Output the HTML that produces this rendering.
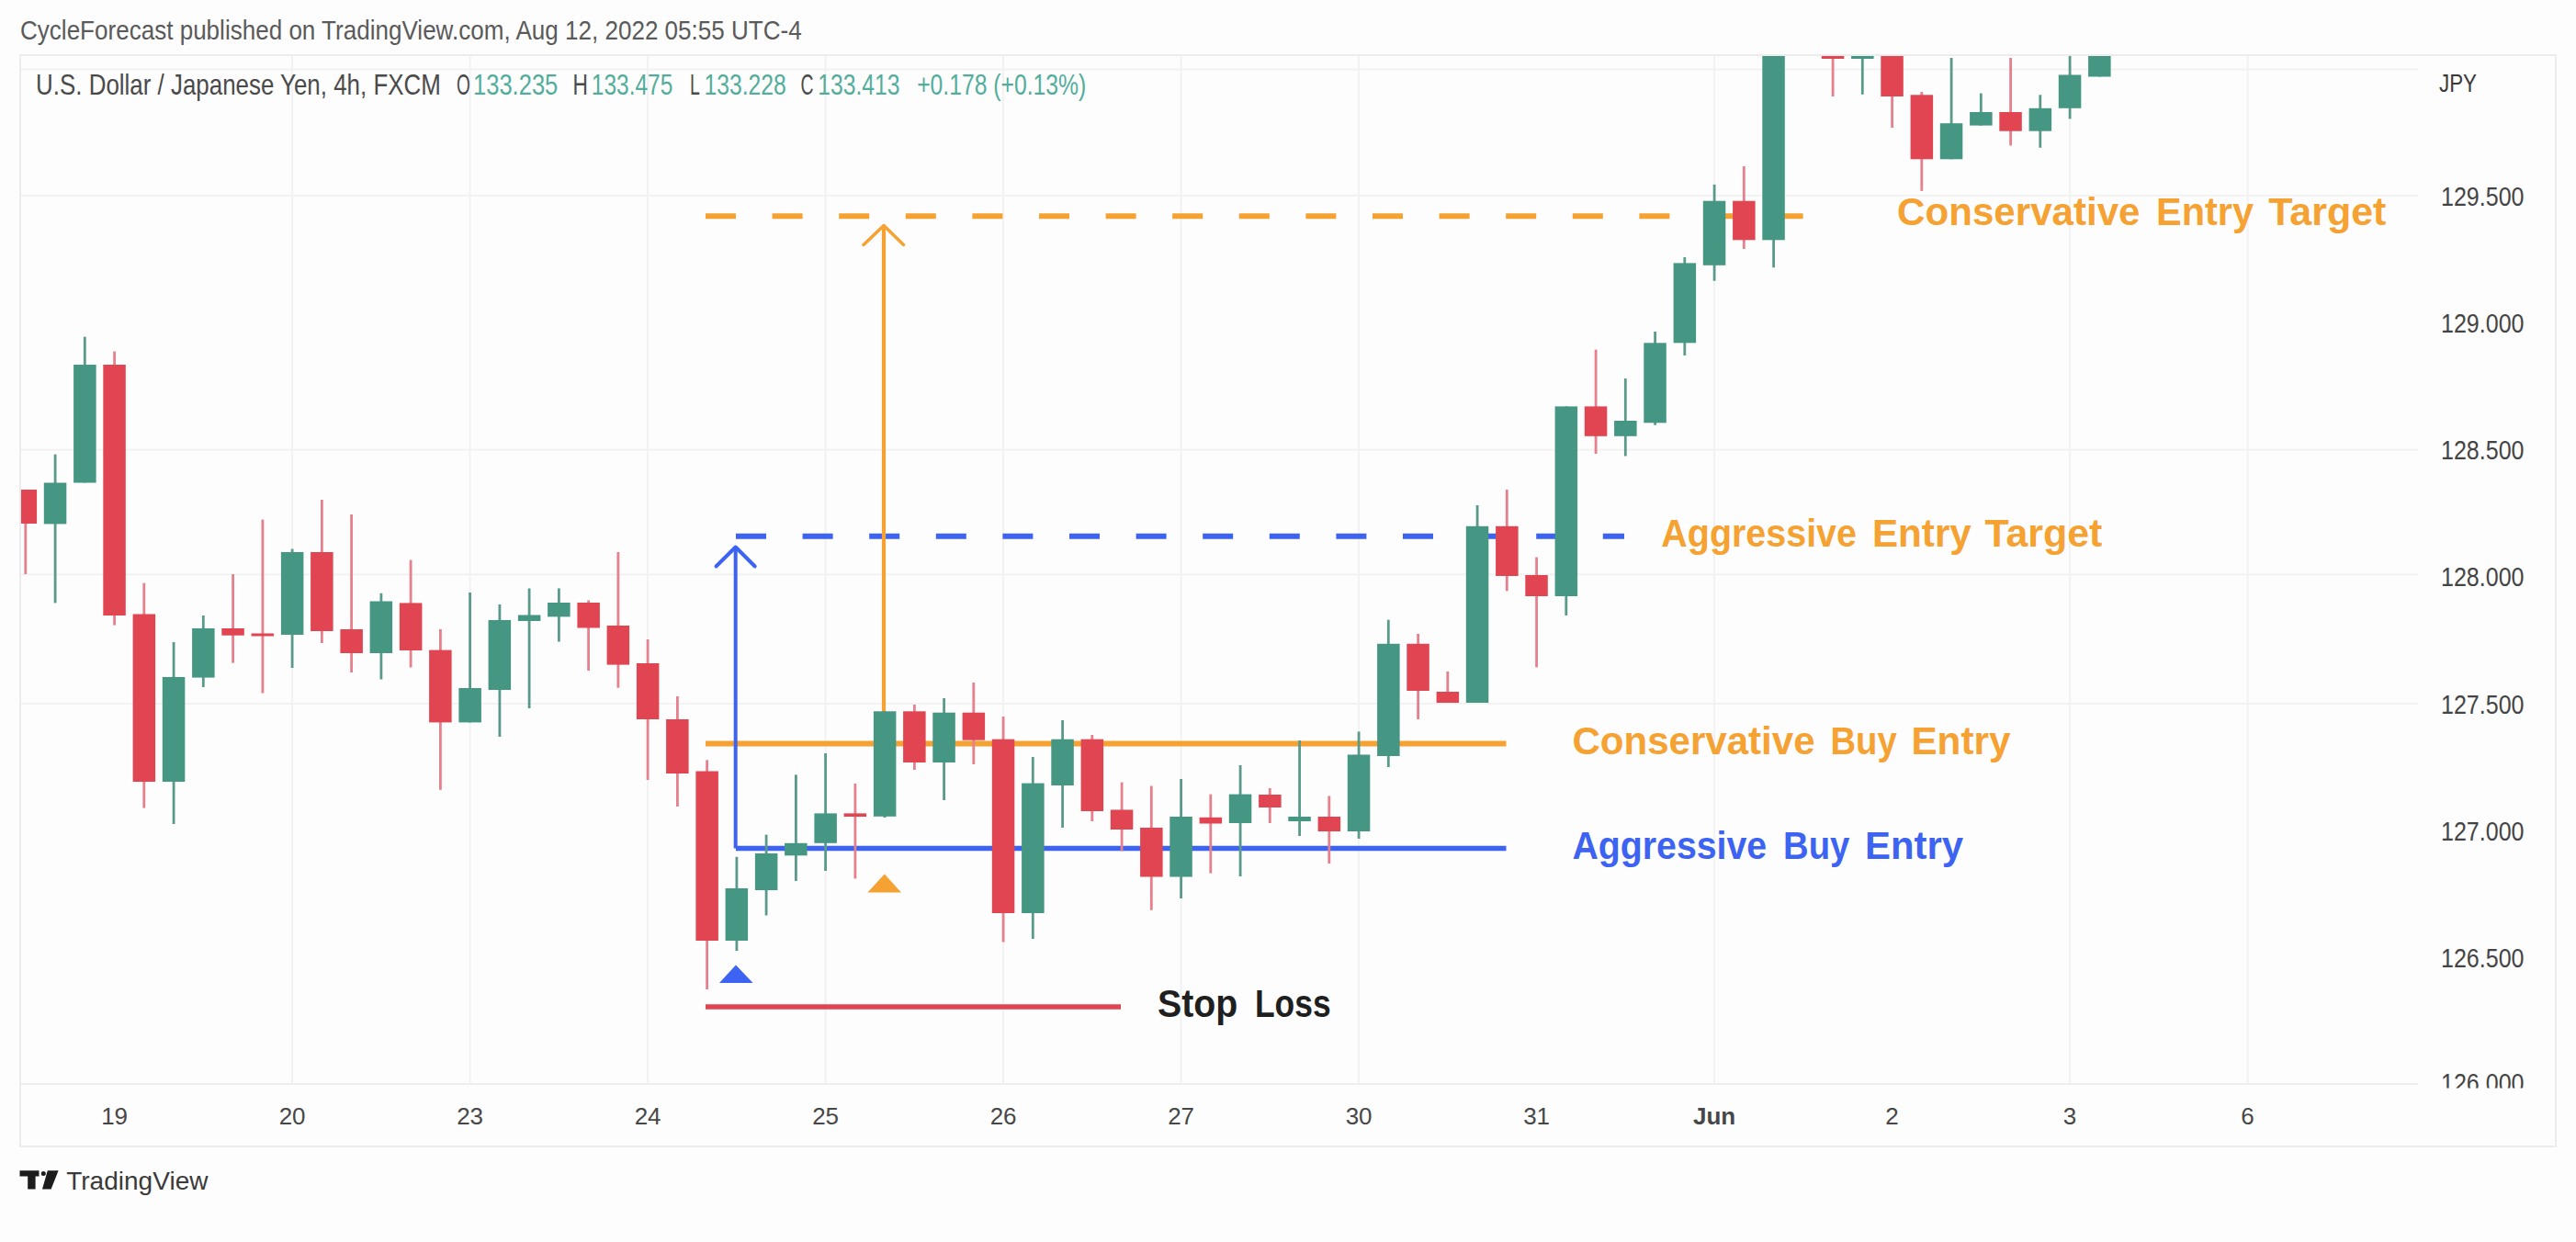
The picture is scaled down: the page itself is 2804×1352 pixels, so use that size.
<!DOCTYPE html><html><head><meta charset="utf-8"><title>USDJPY 4h chart</title><style>
html,body{margin:0;padding:0;background:#fdfdfd;width:2804px;height:1352px;overflow:hidden}
svg{display:block} text{font-family:"Liberation Sans",Arial,sans-serif}
</style></head><body>
<svg width="2804" height="1352" viewBox="0 0 2804 1352">
<rect x="0" y="0" width="2804" height="1352" fill="#fdfdfd"/>
<text x="22" y="42.6" font-size="30" fill="#5a5a5a" textLength="850.7" lengthAdjust="spacingAndGlyphs">CycleForecast published on TradingView.com, Aug 12, 2022 05:55 UTC-4</text>
<rect x="22" y="60" width="2760" height="1188" fill="none" stroke="#ececec" stroke-width="2"/>
<defs><clipPath id="pane"><rect x="23" y="61" width="2609" height="1120"/></clipPath></defs>
<g clip-path="url(#pane)">
<rect x="23" y="74.5" width="2609" height="2" fill="#f2f2f2"/>
<rect x="23" y="211.8" width="2609" height="2" fill="#f2f2f2"/>
<rect x="23" y="488.7" width="2609" height="2" fill="#f2f2f2"/>
<rect x="23" y="624.4" width="2609" height="2" fill="#f2f2f2"/>
<rect x="23" y="764.9" width="2609" height="2" fill="#f2f2f2"/>
<rect x="317.1" y="61" width="2" height="1120" fill="#f2f2f2"/>
<rect x="510.6" y="61" width="2" height="1120" fill="#f2f2f2"/>
<rect x="704.1" y="61" width="2" height="1120" fill="#f2f2f2"/>
<rect x="897.6" y="61" width="2" height="1120" fill="#f2f2f2"/>
<rect x="1091.1" y="61" width="2" height="1120" fill="#f2f2f2"/>
<rect x="1284.6" y="61" width="2" height="1120" fill="#f2f2f2"/>
<rect x="1478.1" y="61" width="2" height="1120" fill="#f2f2f2"/>
<rect x="1865.1" y="61" width="2" height="1120" fill="#f2f2f2"/>
<rect x="2252.1" y="61" width="2" height="1120" fill="#f2f2f2"/>
<rect x="2445.6" y="61" width="2" height="1120" fill="#f2f2f2"/>
<line x1="768" y1="235.3" x2="1963" y2="235.3" stroke="#f5a233" stroke-width="6" stroke-dasharray="33 39.6"/>
<line x1="801" y1="583.7" x2="1768" y2="583.7" stroke="#3d63f2" stroke-width="6" stroke-dasharray="33 39.6"/>
<line x1="768" y1="809.6" x2="1639.5" y2="809.6" stroke="#f5a233" stroke-width="6"/>
<line x1="801" y1="923.5" x2="1639.5" y2="923.5" stroke="#3d63f2" stroke-width="5.5"/>
<line x1="768" y1="1096" x2="1220" y2="1096" stroke="#e24552" stroke-width="5.5"/>
<line x1="962" y1="808" x2="962" y2="247" stroke="#f5a233" stroke-width="4.2"/>
<polyline points="940,266.5 962,245.5 983.5,266.5" fill="none" stroke="#f5a233" stroke-width="3.5" stroke-linecap="round" stroke-linejoin="round"/>
<line x1="800.7" y1="923.5" x2="800.7" y2="597" stroke="#3d63f2" stroke-width="4"/>
<polyline points="779.5,616.5 800.7,595.5 821.7,616.5" fill="none" stroke="#3d63f2" stroke-width="4" stroke-linecap="round" stroke-linejoin="round"/>
<polygon points="801,1050.6 783,1070 819.6,1070" fill="#3d63f2"/>
<polygon points="962.8,951.6 944.4,971.4 981,971.4" fill="#f5a233"/>
<rect x="26.4" y="533.0" width="2.8" height="92.0" fill="#e5808c"/>
<rect x="15.6" y="533.0" width="24.5" height="37.0" fill="#e04551"/>
<rect x="58.7" y="494.6" width="2.8" height="161.8" fill="#5a9a8b"/>
<rect x="47.8" y="525.5" width="24.5" height="44.9" fill="#459683"/>
<rect x="90.9" y="366.6" width="2.8" height="158.9" fill="#5a9a8b"/>
<rect x="80.1" y="397.0" width="24.5" height="128.5" fill="#459683"/>
<rect x="123.2" y="382.5" width="2.8" height="298.1" fill="#e5808c"/>
<rect x="112.3" y="397.0" width="24.5" height="273.0" fill="#e04551"/>
<rect x="155.4" y="634.7" width="2.8" height="244.9" fill="#e5808c"/>
<rect x="144.6" y="668.5" width="24.5" height="182.5" fill="#e04551"/>
<rect x="187.7" y="699.0" width="2.8" height="198.0" fill="#5a9a8b"/>
<rect x="176.8" y="737.0" width="24.5" height="114.0" fill="#459683"/>
<rect x="219.9" y="670.0" width="2.8" height="78.0" fill="#5a9a8b"/>
<rect x="209.1" y="684.0" width="24.5" height="53.6" fill="#459683"/>
<rect x="252.2" y="625.0" width="2.8" height="96.6" fill="#e5808c"/>
<rect x="241.3" y="684.0" width="24.5" height="7.7" fill="#e04551"/>
<rect x="284.5" y="565.6" width="2.8" height="188.9" fill="#e5808c"/>
<rect x="273.6" y="689.5" width="24.5" height="3.0" fill="#e04551"/>
<rect x="316.7" y="597.5" width="2.8" height="129.5" fill="#5a9a8b"/>
<rect x="305.9" y="601.0" width="24.5" height="90.0" fill="#459683"/>
<rect x="349.0" y="544.0" width="2.8" height="156.0" fill="#e5808c"/>
<rect x="338.1" y="601.0" width="24.5" height="86.0" fill="#e04551"/>
<rect x="381.2" y="560.0" width="2.8" height="172.0" fill="#e5808c"/>
<rect x="370.4" y="685.0" width="24.5" height="26.0" fill="#e04551"/>
<rect x="413.5" y="645.8" width="2.8" height="93.7" fill="#5a9a8b"/>
<rect x="402.6" y="654.5" width="24.5" height="56.5" fill="#459683"/>
<rect x="445.7" y="609.6" width="2.8" height="116.9" fill="#e5808c"/>
<rect x="434.9" y="656.4" width="24.5" height="51.6" fill="#e04551"/>
<rect x="478.0" y="685.0" width="2.8" height="174.8" fill="#e5808c"/>
<rect x="467.1" y="707.6" width="24.5" height="78.8" fill="#e04551"/>
<rect x="510.2" y="645.0" width="2.8" height="141.4" fill="#5a9a8b"/>
<rect x="499.4" y="749.0" width="24.5" height="37.4" fill="#459683"/>
<rect x="542.5" y="658.0" width="2.8" height="144.0" fill="#5a9a8b"/>
<rect x="531.6" y="675.0" width="24.5" height="76.0" fill="#459683"/>
<rect x="574.7" y="640.5" width="2.8" height="130.5" fill="#5a9a8b"/>
<rect x="563.9" y="669.5" width="24.5" height="6.5" fill="#459683"/>
<rect x="607.0" y="640.5" width="2.8" height="58.0" fill="#5a9a8b"/>
<rect x="596.1" y="656.0" width="24.5" height="15.4" fill="#459683"/>
<rect x="639.2" y="653.5" width="2.8" height="76.5" fill="#e5808c"/>
<rect x="628.4" y="656.0" width="24.5" height="27.5" fill="#e04551"/>
<rect x="671.5" y="601.0" width="2.8" height="147.7" fill="#e5808c"/>
<rect x="660.6" y="681.0" width="24.5" height="42.6" fill="#e04551"/>
<rect x="703.7" y="696.0" width="2.8" height="153.0" fill="#e5808c"/>
<rect x="692.9" y="722.0" width="24.5" height="61.0" fill="#e04551"/>
<rect x="736.0" y="758.0" width="2.8" height="120.0" fill="#e5808c"/>
<rect x="725.1" y="783.0" width="24.5" height="59.0" fill="#e04551"/>
<rect x="768.2" y="827.4" width="2.8" height="249.6" fill="#e5808c"/>
<rect x="757.4" y="839.5" width="24.5" height="184.5" fill="#e04551"/>
<rect x="800.5" y="932.8" width="2.8" height="102.2" fill="#5a9a8b"/>
<rect x="789.6" y="967.0" width="24.5" height="57.0" fill="#459683"/>
<rect x="832.7" y="908.6" width="2.8" height="87.9" fill="#5a9a8b"/>
<rect x="821.9" y="929.0" width="24.5" height="40.0" fill="#459683"/>
<rect x="865.0" y="843.4" width="2.8" height="115.6" fill="#5a9a8b"/>
<rect x="854.1" y="917.8" width="24.5" height="13.5" fill="#459683"/>
<rect x="897.2" y="820.0" width="2.8" height="128.0" fill="#5a9a8b"/>
<rect x="886.4" y="885.4" width="24.5" height="32.4" fill="#459683"/>
<rect x="929.5" y="853.0" width="2.8" height="103.4" fill="#e5808c"/>
<rect x="918.6" y="885.4" width="24.5" height="3.6" fill="#e04551"/>
<rect x="961.7" y="774.3" width="2.8" height="115.7" fill="#5a9a8b"/>
<rect x="950.9" y="774.3" width="24.5" height="114.5" fill="#459683"/>
<rect x="994.0" y="767.0" width="2.8" height="71.0" fill="#e5808c"/>
<rect x="983.1" y="774.3" width="24.5" height="55.7" fill="#e04551"/>
<rect x="1026.2" y="760.0" width="2.8" height="111.0" fill="#5a9a8b"/>
<rect x="1015.3" y="775.7" width="24.5" height="54.3" fill="#459683"/>
<rect x="1058.4" y="743.0" width="2.8" height="89.0" fill="#e5808c"/>
<rect x="1047.6" y="775.7" width="24.5" height="30.0" fill="#e04551"/>
<rect x="1090.7" y="780.0" width="2.8" height="245.5" fill="#e5808c"/>
<rect x="1079.8" y="804.7" width="24.5" height="189.3" fill="#e04551"/>
<rect x="1122.9" y="824.0" width="2.8" height="198.0" fill="#5a9a8b"/>
<rect x="1112.1" y="852.6" width="24.5" height="141.4" fill="#459683"/>
<rect x="1155.2" y="784.0" width="2.8" height="117.0" fill="#5a9a8b"/>
<rect x="1144.3" y="804.7" width="24.5" height="50.3" fill="#459683"/>
<rect x="1187.4" y="800.0" width="2.8" height="94.0" fill="#e5808c"/>
<rect x="1176.6" y="804.7" width="24.5" height="78.3" fill="#e04551"/>
<rect x="1219.7" y="851.6" width="2.8" height="74.9" fill="#e5808c"/>
<rect x="1208.8" y="881.5" width="24.5" height="21.5" fill="#e04551"/>
<rect x="1251.9" y="855.5" width="2.8" height="135.2" fill="#e5808c"/>
<rect x="1241.1" y="901.0" width="24.5" height="53.5" fill="#e04551"/>
<rect x="1284.2" y="848.0" width="2.8" height="130.0" fill="#5a9a8b"/>
<rect x="1273.3" y="889.0" width="24.5" height="65.5" fill="#459683"/>
<rect x="1316.4" y="864.6" width="2.8" height="86.0" fill="#e5808c"/>
<rect x="1305.6" y="889.8" width="24.5" height="6.7" fill="#e04551"/>
<rect x="1348.7" y="833.0" width="2.8" height="121.0" fill="#5a9a8b"/>
<rect x="1337.8" y="864.6" width="24.5" height="31.4" fill="#459683"/>
<rect x="1380.9" y="858.0" width="2.8" height="38.0" fill="#e5808c"/>
<rect x="1370.1" y="865.0" width="24.5" height="14.0" fill="#e04551"/>
<rect x="1413.2" y="806.0" width="2.8" height="104.0" fill="#5a9a8b"/>
<rect x="1402.3" y="889.0" width="24.5" height="5.0" fill="#459683"/>
<rect x="1445.4" y="866.5" width="2.8" height="73.5" fill="#e5808c"/>
<rect x="1434.6" y="889.0" width="24.5" height="16.0" fill="#e04551"/>
<rect x="1477.7" y="796.4" width="2.8" height="116.6" fill="#5a9a8b"/>
<rect x="1466.8" y="821.5" width="24.5" height="83.5" fill="#459683"/>
<rect x="1509.9" y="674.7" width="2.8" height="160.3" fill="#5a9a8b"/>
<rect x="1499.1" y="700.8" width="24.5" height="122.2" fill="#459683"/>
<rect x="1542.2" y="690.0" width="2.8" height="93.0" fill="#e5808c"/>
<rect x="1531.3" y="700.8" width="24.5" height="51.2" fill="#e04551"/>
<rect x="1574.4" y="731.0" width="2.8" height="34.0" fill="#e5808c"/>
<rect x="1563.6" y="753.0" width="24.5" height="12.0" fill="#e04551"/>
<rect x="1606.7" y="550.0" width="2.8" height="215.0" fill="#5a9a8b"/>
<rect x="1595.8" y="572.8" width="24.5" height="192.2" fill="#459683"/>
<rect x="1638.9" y="533.0" width="2.8" height="110.3" fill="#e5808c"/>
<rect x="1628.1" y="572.8" width="24.5" height="54.2" fill="#e04551"/>
<rect x="1671.2" y="606.6" width="2.8" height="119.8" fill="#e5808c"/>
<rect x="1660.3" y="626.0" width="24.5" height="23.0" fill="#e04551"/>
<rect x="1703.4" y="442.4" width="2.8" height="227.6" fill="#5a9a8b"/>
<rect x="1692.6" y="442.4" width="24.5" height="206.6" fill="#459683"/>
<rect x="1735.7" y="380.6" width="2.8" height="113.4" fill="#e5808c"/>
<rect x="1724.8" y="442.4" width="24.5" height="32.4" fill="#e04551"/>
<rect x="1767.9" y="412.0" width="2.8" height="84.5" fill="#5a9a8b"/>
<rect x="1757.1" y="458.0" width="24.5" height="16.8" fill="#459683"/>
<rect x="1800.2" y="361.0" width="2.8" height="101.7" fill="#5a9a8b"/>
<rect x="1789.3" y="373.3" width="24.5" height="87.0" fill="#459683"/>
<rect x="1832.4" y="280.0" width="2.8" height="106.9" fill="#5a9a8b"/>
<rect x="1821.6" y="286.4" width="24.5" height="86.9" fill="#459683"/>
<rect x="1864.7" y="200.9" width="2.8" height="104.8" fill="#5a9a8b"/>
<rect x="1853.8" y="218.7" width="24.5" height="70.1" fill="#459683"/>
<rect x="1896.9" y="181.0" width="2.8" height="90.0" fill="#e5808c"/>
<rect x="1886.1" y="218.7" width="24.5" height="42.6" fill="#e04551"/>
<rect x="1929.2" y="40.0" width="2.8" height="251.2" fill="#5a9a8b"/>
<rect x="1918.3" y="40.0" width="24.5" height="221.3" fill="#459683"/>
<rect x="1993.7" y="20.0" width="2.8" height="85.0" fill="#e5808c"/>
<rect x="1982.8" y="20.0" width="24.5" height="44.0" fill="#e04551"/>
<rect x="2025.9" y="20.0" width="2.8" height="82.8" fill="#5a9a8b"/>
<rect x="2015.1" y="20.0" width="24.5" height="44.0" fill="#459683"/>
<rect x="2058.2" y="20.0" width="2.8" height="119.0" fill="#e5808c"/>
<rect x="2047.3" y="20.0" width="24.5" height="85.0" fill="#e04551"/>
<rect x="2090.4" y="100.0" width="2.8" height="107.9" fill="#e5808c"/>
<rect x="2079.6" y="103.3" width="24.5" height="70.0" fill="#e04551"/>
<rect x="2122.7" y="63.0" width="2.8" height="110.3" fill="#5a9a8b"/>
<rect x="2111.8" y="134.2" width="24.5" height="39.1" fill="#459683"/>
<rect x="2154.9" y="101.6" width="2.8" height="35.0" fill="#5a9a8b"/>
<rect x="2144.1" y="122.0" width="24.5" height="14.6" fill="#459683"/>
<rect x="2187.2" y="63.0" width="2.8" height="95.4" fill="#e5808c"/>
<rect x="2176.3" y="122.0" width="24.5" height="20.7" fill="#e04551"/>
<rect x="2219.4" y="103.3" width="2.8" height="57.5" fill="#5a9a8b"/>
<rect x="2208.6" y="117.8" width="24.5" height="24.9" fill="#459683"/>
<rect x="2251.7" y="50.0" width="2.8" height="79.4" fill="#5a9a8b"/>
<rect x="2240.8" y="81.5" width="24.5" height="36.3" fill="#459683"/>
<rect x="2283.9" y="20.0" width="2.8" height="63.5" fill="#5a9a8b"/>
<rect x="2273.1" y="20.0" width="24.5" height="63.5" fill="#459683"/>
</g>
<rect x="23" y="1179" width="2609" height="2" fill="#eeeeee"/>
<text x="2657" y="223.7" font-size="29" fill="#444444" textLength="90.5" lengthAdjust="spacingAndGlyphs">129.500</text>
<text x="2657" y="361.9" font-size="29" fill="#444444" textLength="90.5" lengthAdjust="spacingAndGlyphs">129.000</text>
<text x="2657" y="500.1" font-size="29" fill="#444444" textLength="90.5" lengthAdjust="spacingAndGlyphs">128.500</text>
<text x="2657" y="638.3" font-size="29" fill="#444444" textLength="90.5" lengthAdjust="spacingAndGlyphs">128.000</text>
<text x="2657" y="776.5" font-size="29" fill="#444444" textLength="90.5" lengthAdjust="spacingAndGlyphs">127.500</text>
<text x="2657" y="914.7" font-size="29" fill="#444444" textLength="90.5" lengthAdjust="spacingAndGlyphs">127.000</text>
<text x="2657" y="1052.9" font-size="29" fill="#444444" textLength="90.5" lengthAdjust="spacingAndGlyphs">126.500</text>
<defs><clipPath id="pax"><rect x="2632" y="61" width="150" height="1123.5"/></clipPath></defs>
<text clip-path="url(#pax)" x="2657" y="1188.6" font-size="29" fill="#444444" textLength="90.5" lengthAdjust="spacingAndGlyphs">126.000</text>
<text x="2655" y="99.9" font-size="28" fill="#3a3a3a" textLength="41" lengthAdjust="spacingAndGlyphs">JPY</text>
<text x="124.6" y="1224" font-size="26" fill="#474747" text-anchor="middle">19</text>
<text x="318.1" y="1224" font-size="26" fill="#474747" text-anchor="middle">20</text>
<text x="511.6" y="1224" font-size="26" fill="#474747" text-anchor="middle">23</text>
<text x="705.1" y="1224" font-size="26" fill="#474747" text-anchor="middle">24</text>
<text x="898.6" y="1224" font-size="26" fill="#474747" text-anchor="middle">25</text>
<text x="1092.1" y="1224" font-size="26" fill="#474747" text-anchor="middle">26</text>
<text x="1285.6" y="1224" font-size="26" fill="#474747" text-anchor="middle">27</text>
<text x="1479.1" y="1224" font-size="26" fill="#474747" text-anchor="middle">30</text>
<text x="1672.6" y="1224" font-size="26" fill="#474747" text-anchor="middle">31</text>
<text x="1866.1" y="1224" font-size="26" fill="#474747" text-anchor="middle" font-weight="bold">Jun</text>
<text x="2059.6" y="1224" font-size="26" fill="#474747" text-anchor="middle">2</text>
<text x="2253.1" y="1224" font-size="26" fill="#474747" text-anchor="middle">3</text>
<text x="2446.6" y="1224" font-size="26" fill="#474747" text-anchor="middle">6</text>
<text x="39.1" y="102.6" font-size="31.5" fill="#4a4a4a" textLength="440.7" lengthAdjust="spacingAndGlyphs">U.S. Dollar / Japanese Yen, 4h, FXCM</text>
<text x="497.0" y="102.6" font-size="31.5" fill="#4a4a4a" textLength="14.8" lengthAdjust="spacingAndGlyphs">O</text>
<text x="515.0" y="102.6" font-size="31.5" fill="#52ad9c" textLength="92.3" lengthAdjust="spacingAndGlyphs">133.235</text>
<text x="623.6" y="102.6" font-size="31.5" fill="#4a4a4a" textLength="16.4" lengthAdjust="spacingAndGlyphs">H</text>
<text x="643.8" y="102.6" font-size="31.5" fill="#52ad9c" textLength="88.5" lengthAdjust="spacingAndGlyphs">133.475</text>
<text x="751.0" y="102.6" font-size="31.5" fill="#4a4a4a" textLength="10.8" lengthAdjust="spacingAndGlyphs">L</text>
<text x="766.5" y="102.6" font-size="31.5" fill="#52ad9c" textLength="89.3" lengthAdjust="spacingAndGlyphs">133.228</text>
<text x="871.6" y="102.6" font-size="31.5" fill="#4a4a4a" textLength="14.0" lengthAdjust="spacingAndGlyphs">C</text>
<text x="890.3" y="102.6" font-size="31.5" fill="#52ad9c" textLength="89.3" lengthAdjust="spacingAndGlyphs">133.413</text>
<text x="998.2" y="102.6" font-size="31.5" fill="#52ad9c" textLength="184.0" lengthAdjust="spacingAndGlyphs">+0.178 (+0.13%)</text>
<text x="2065.1" y="245.2" font-size="43" font-weight="bold" fill="#f5a233" textLength="264.4" lengthAdjust="spacingAndGlyphs">Conservative</text>
<text x="2347.0" y="245.2" font-size="43" font-weight="bold" fill="#f5a233" textLength="106.0" lengthAdjust="spacingAndGlyphs">Entry</text>
<text x="2469.3" y="245.2" font-size="43" font-weight="bold" fill="#f5a233" textLength="128.1" lengthAdjust="spacingAndGlyphs">Target</text>
<text x="1808.3" y="595.0" font-size="43" font-weight="bold" fill="#f5a233" textLength="212.7" lengthAdjust="spacingAndGlyphs">Aggressive</text>
<text x="2037.9" y="595.0" font-size="43" font-weight="bold" fill="#f5a233" textLength="107.9" lengthAdjust="spacingAndGlyphs">Entry</text>
<text x="2160.5" y="595.0" font-size="43" font-weight="bold" fill="#f5a233" textLength="127.9" lengthAdjust="spacingAndGlyphs">Target</text>
<text x="1711.4" y="821.2" font-size="43" font-weight="bold" fill="#f5a233" textLength="264.2" lengthAdjust="spacingAndGlyphs">Conservative</text>
<text x="1992.4" y="821.2" font-size="43" font-weight="bold" fill="#f5a233" textLength="72.3" lengthAdjust="spacingAndGlyphs">Buy</text>
<text x="2080.4" y="821.2" font-size="43" font-weight="bold" fill="#f5a233" textLength="108.0" lengthAdjust="spacingAndGlyphs">Entry</text>
<text x="1711.4" y="935.0" font-size="43" font-weight="bold" fill="#3d63f2" textLength="211.8" lengthAdjust="spacingAndGlyphs">Aggressive</text>
<text x="1941.0" y="935.0" font-size="43" font-weight="bold" fill="#3d63f2" textLength="72.3" lengthAdjust="spacingAndGlyphs">Buy</text>
<text x="2030.0" y="935.0" font-size="43" font-weight="bold" fill="#3d63f2" textLength="107.0" lengthAdjust="spacingAndGlyphs">Entry</text>
<text x="1260.0" y="1107.0" font-size="43" font-weight="bold" fill="#1f1f1f" textLength="87.3" lengthAdjust="spacingAndGlyphs">Stop</text>
<text x="1366.0" y="1107.0" font-size="43" font-weight="bold" fill="#1f1f1f" textLength="82.6" lengthAdjust="spacingAndGlyphs">Loss</text>
<g fill="#1c1c1c">
<path d="M21.5 1274.3H42.5V1280.6H38.6V1294.6H30.2V1280.6H21.5Z"/><circle cx="47.3" cy="1277.4" r="2.5"/><path d="M51.8 1274.3H63.6L55.6 1294.6H46Z"/>
</g>
<text x="72.2" y="1294.7" font-size="28" fill="#3a3a3a" textLength="154.3" lengthAdjust="spacingAndGlyphs">TradingView</text>
</svg></body></html>
